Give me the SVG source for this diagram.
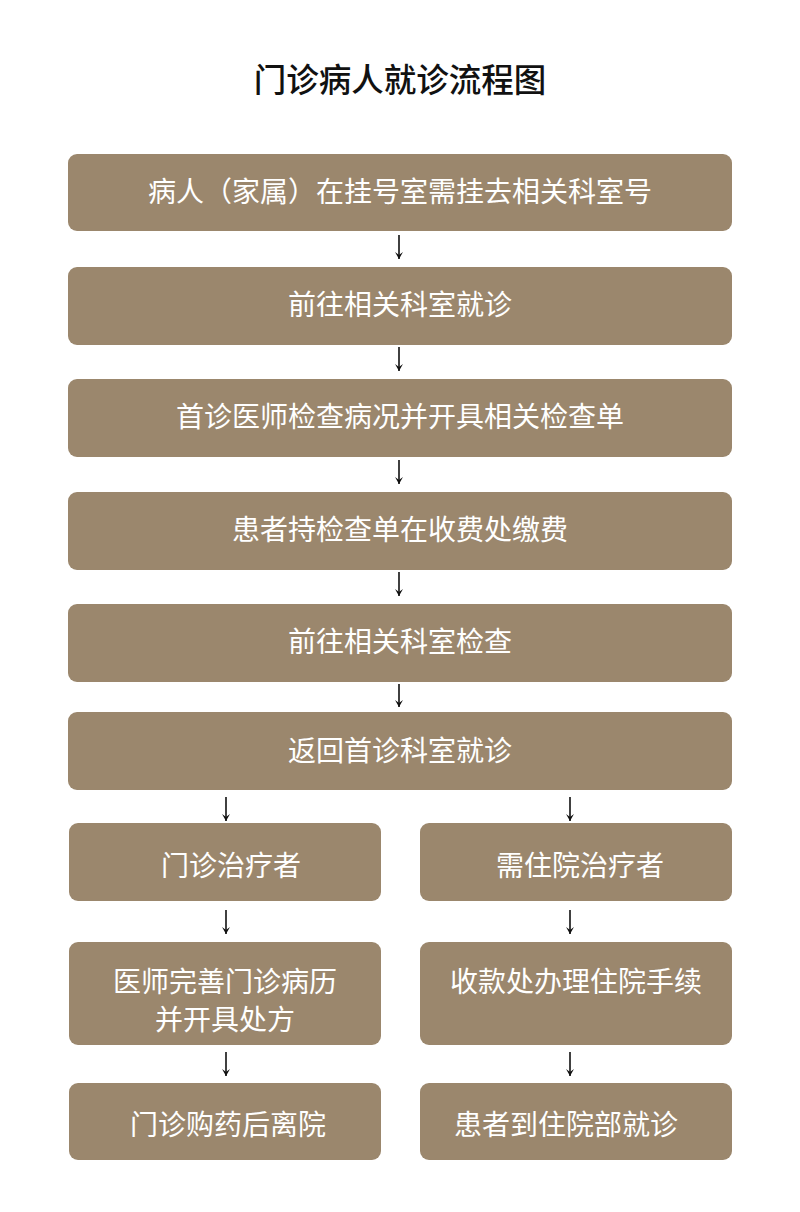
<svg xmlns="http://www.w3.org/2000/svg" width="800" height="1212" viewBox="0 0 800 1212">
<style>
.box{fill:#9b876d}
.t{font-family:"Noto Sans CJK SC","Noto Sans",sans-serif;font-size:28px;fill:#ffffff;text-anchor:middle}
.title{font-family:"Noto Sans CJK SC","Noto Sans",sans-serif;font-size:32.5px;font-weight:500;fill:#111111;text-anchor:middle}
.ar{stroke:#111;stroke-width:1.6;fill:none}
</style>
<defs>
<marker id="ah" viewBox="0 0 10 10" refX="10" refY="5" markerWidth="10" markerHeight="10" markerUnits="userSpaceOnUse" orient="auto">
<path d="M3,1 L10,5 L3,9 L6,5 z" fill="#111"/>
</marker>
</defs>
<rect width="800" height="1212" fill="#ffffff"/>
<text class="title" x="400" y="92">门诊病人就诊流程图</text>
<g id="n1"><rect class="box" x="68" y="154" width="664" height="77" rx="9"/><text class="t" x="400" y="202">病人（家属）在挂号室需挂去相关科室号</text></g>
<g id="n2"><rect class="box" x="68" y="267" width="664" height="78" rx="9"/><text class="t" x="400" y="315">前往相关科室就诊</text></g>
<g id="n3"><rect class="box" x="68" y="379" width="664" height="78" rx="9"/><text class="t" x="400" y="427">首诊医师检查病况并开具相关检查单</text></g>
<g id="n4"><rect class="box" x="68" y="492" width="664" height="78" rx="9"/><text class="t" x="400" y="540">患者持检查单在收费处缴费</text></g>
<g id="n5"><rect class="box" x="68" y="604" width="664" height="78" rx="9"/><text class="t" x="400" y="652">前往相关科室检查</text></g>
<g id="n6"><rect class="box" x="68" y="712" width="664" height="78" rx="9"/><text class="t" x="400" y="761">返回首诊科室就诊</text></g>
<g id="n7"><rect class="box" x="69" y="823" width="312" height="78" rx="9"/><text class="t" x="231" y="876">门诊治疗者</text></g>
<g id="n8"><rect class="box" x="420" y="823" width="312" height="78" rx="9"/><text class="t" x="580" y="876">需住院治疗者</text></g>
<g id="n9"><rect class="box" x="69" y="942" width="312" height="103" rx="9"/><text class="t" x="225" y="992">医师完善门诊病历</text><text class="t" x="225" y="1030">并开具处方</text></g>
<g id="n10"><rect class="box" x="420" y="942" width="312" height="103" rx="9"/><text class="t" x="576" y="992">收款处办理住院手续</text></g>
<g id="n11"><rect class="box" x="69" y="1083" width="312" height="77" rx="9"/><text class="t" x="228" y="1135">门诊购药后离院</text></g>
<g id="n12"><rect class="box" x="420" y="1083" width="312" height="77" rx="9"/><text class="t" x="566" y="1135">患者到住院部就诊</text></g>
<g id="connectors">
<line class="ar" x1="399" y1="235" x2="399" y2="259" marker-end="url(#ah)"/>
<line class="ar" x1="399" y1="347" x2="399" y2="371" marker-end="url(#ah)"/>
<line class="ar" x1="399" y1="460" x2="399" y2="484" marker-end="url(#ah)"/>
<line class="ar" x1="399" y1="572" x2="399" y2="596" marker-end="url(#ah)"/>
<line class="ar" x1="399" y1="684" x2="399" y2="707" marker-end="url(#ah)"/>
<line class="ar" x1="226" y1="797" x2="226" y2="821" marker-end="url(#ah)"/>
<line class="ar" x1="570" y1="797" x2="570" y2="821" marker-end="url(#ah)"/>
<line class="ar" x1="226" y1="910" x2="226" y2="934" marker-end="url(#ah)"/>
<line class="ar" x1="570" y1="910" x2="570" y2="934" marker-end="url(#ah)"/>
<line class="ar" x1="226" y1="1052" x2="226" y2="1076" marker-end="url(#ah)"/>
<line class="ar" x1="570" y1="1052" x2="570" y2="1076" marker-end="url(#ah)"/>
</g>
</svg>
